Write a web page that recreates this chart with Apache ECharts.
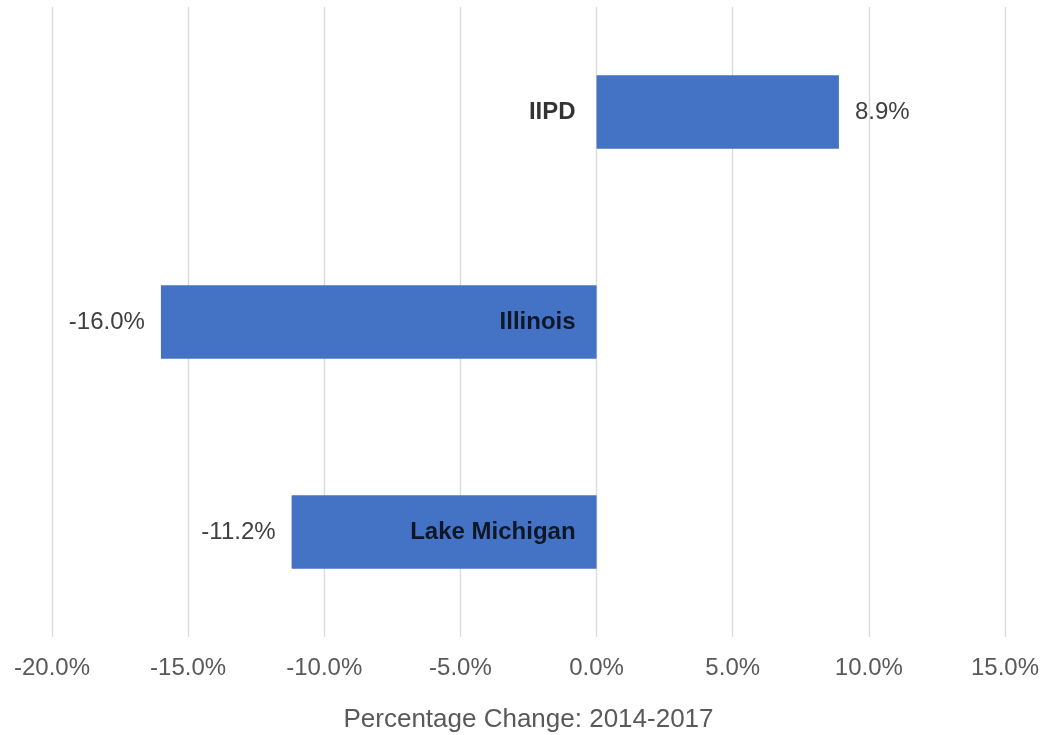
<!DOCTYPE html>
<html>
<head>
<meta charset="utf-8">
<script src="https://cdn.jsdelivr.net/npm/echarts@6/dist/echarts.min.js"></script>
<style>
html,body{margin:0;padding:0;background:#fff;}
#chart{width:1040px;height:735px;}
</style>
</head>
<body>
<div id="chart"></div>
<script>
const categories = ['IIPD', 'Illinois', 'Lake Michigan'];
const values = [8.9, -16.0, -11.2];
const xTicks = { min: -20, max: 15, interval: 5 };
const axisTitle = 'Percentage Change: 2014-2017';

const font = 'Arial';
const chart = echarts.init(document.getElementById('chart'));
chart.setOption({
  animation: false,
  grid: { left: 52, right: 35, top: 7, bottom: 98, containLabel: false, outerBoundsMode: 'none' },
  xAxis: {
    type: 'value',
    min: xTicks.min, max: xTicks.max, interval: xTicks.interval,
    axisLine: { show: false },
    axisTick: { show: false },
    splitLine: { show: true, lineStyle: { color: '#d9d9d9', width: 1.3 } },
    axisLabel: {
      formatter: v => v.toFixed(1) + '%',
      color: '#595959', fontSize: 24, fontFamily: font, margin: 19
    },
    name: axisTitle,
    nameLocation: 'middle',
    nameGap: 70,
    nameTextStyle: { color: '#595959', fontSize: 26, fontFamily: font }
  },
  yAxis: {
    type: 'category',
    data: categories,
    inverse: true,
    axisLine: { show: false },
    axisTick: { show: false },
    splitLine: { show: false },
    axisLabel: { show: false }
  },
  series: [{
    type: 'bar',
    data: values.map(v => ({
      value: v,
      label: { position: v >= 0 ? 'right' : 'left' }
    })),
    barWidth: '35%',
    itemStyle: { color: '#4472c4' },
    z: 2,
    label: {
      show: true,
      distance: 16,
      formatter: p => p.value.toFixed(1) + '%',
      color: '#404040', fontSize: 24, fontFamily: font
    }
  }, {
    type: 'scatter',
    data: categories.map(c => [0, c]),
    symbolSize: 0,
    silent: true,
    z: 5,
    label: {
      show: true,
      position: 'left',
      distance: 21,
      formatter: p => p.value[1],
      color: '#000', fontWeight: 'bold', fontSize: 24, fontFamily: font
    }
  }]
});
</script>
</body>
</html>
